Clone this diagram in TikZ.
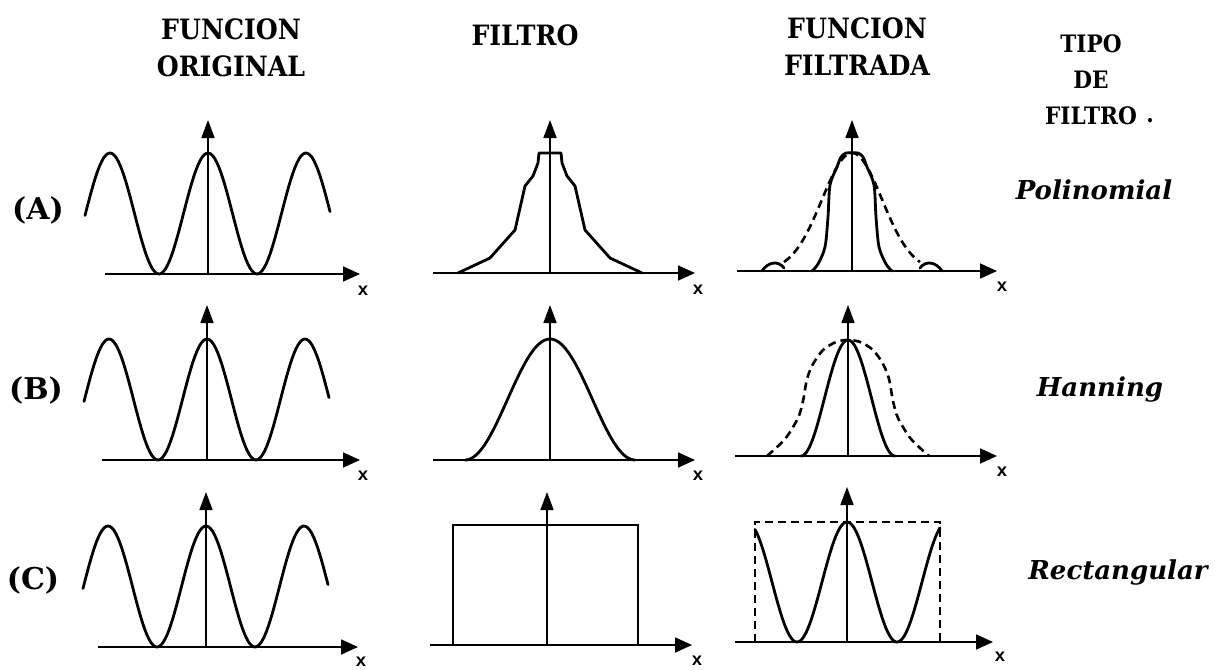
\documentclass[tikz,border=0pt]{standalone}
\usepackage{fontspec}
\setmainfont{DejaVu Serif}
\newfontfamily\headfont{DejaVu Serif}[FakeStretch=0.9]
\newfontfamily\xfont{Liberation Mono}
\usetikzlibrary{arrows.meta}
\begin{document}
\begin{tikzpicture}[x=1pt,y=-1pt,
  haxis/.style={line width=1.7pt,-{Triangle[length=17pt,width=15pt]}},
  vaxis/.style={line width=1.6pt,-{Triangle[length=18pt,width=13pt]}},
  curve/.style={line width=2.8pt,line join=round,line cap=round},
  dcurve/.style={line width=2.6pt,dash pattern=on 8pt off 5pt},
  rectline/.style={line width=1.8pt},
  drect/.style={line width=1.8pt,dash pattern=on 8pt off 5pt},
  head/.style={font=\fontsize{28}{37}\selectfont\headfont\bfseries,align=center,inner sep=0pt},
  tipohead/.style={font=\fontsize{24}{36}\selectfont\headfont\bfseries,align=center,inner sep=0pt},
  rowlab/.style={font=\fontsize{30}{34}\selectfont\bfseries,inner sep=0pt},
  tipo/.style={font=\fontsize{26}{30}\selectfont\bfseries\itshape,inner sep=0pt},
  xlab/.style={font=\fontsize{18}{18}\selectfont\xfont\bfseries,inner sep=0pt}]
\useasboundingbox (0,0) rectangle (1217,669);

% ---------------- headers
\node[head] (h1) at (231,48) {FUNCION\\ORIGINAL};
\node[head] (h2) at (525,35) {FILTRO};
\node[head] (h3) at (857,47) {FUNCION\\FILTRADA};
\node[tipohead] (h4) at (1091,80) {TIPO\\DE\\FILTRO};
\node[tipohead] (hdot) at (1150,121) {.};

% ---------------- row labels
\node[rowlab] (lA) at (38,210) {(A)};
\node[rowlab] (lB) at (36,390) {(B)};
\node[rowlab] (lC) at (33,580) {(C)};

\node[tipo] (tA) at (1094,190) {Polinomial};
\node[tipo] (tB) at (1100,390) {Hanning};
\node[tipo] (tC) at (1118,573) {Rectangular};

% ---------------- axes coordinates
% row A
\coordinate (a1l) at (105,274); \coordinate (a1r) at (360,274);
\coordinate (v1b) at (208,274); \coordinate (v1t) at (208,120);
\coordinate (a2l) at (433,273); \coordinate (a2r) at (695,273);
\coordinate (v2b) at (550,273); \coordinate (v2t) at (550,120);
\coordinate (a3l) at (737,271); \coordinate (a3r) at (997,271);
\coordinate (v3b) at (852,271); \coordinate (v3t) at (852,120);
% row B
\coordinate (b1l) at (102,460); \coordinate (b1r) at (360,460);
\coordinate (w1b) at (207,460); \coordinate (w1t) at (207,305);
\coordinate (b2l) at (433,460); \coordinate (b2r) at (695,460);
\coordinate (w2b) at (550,460); \coordinate (w2t) at (550,305);
\coordinate (b3l) at (735,456); \coordinate (b3r) at (997,456);
\coordinate (w3b) at (848,456); \coordinate (w3t) at (848,305);
% row C
\coordinate (c1l) at (98,647); \coordinate (c1r) at (358,647);
\coordinate (u1b) at (206,647); \coordinate (u1t) at (206,492);
\coordinate (c2l) at (430,645); \coordinate (c2r) at (692,645);
\coordinate (u2b) at (547,645); \coordinate (u2t) at (547,492);
\coordinate (c3l) at (735,642); \coordinate (c3r) at (993,642);
\coordinate (u3b) at (847,642); \coordinate (u3t) at (847,487);

\foreach \l/\r in {a1l/a1r,a2l/a2r,a3l/a3r,b1l/b1r,b2l/b2r,b3l/b3r,c1l/c1r,c2l/c2r,c3l/c3r}
  \draw[haxis] (\l) -- (\r);
\foreach \b/\t in {v1b/v1t,v2b/v2t,v3b/v3t,w1b/w1t,w2b/w2t,w3b/w3t,u1b/u1t,u2b/u2t,u3b/u3t}
  \draw[vaxis] (\b) -- (\t);

% x labels
\node[xlab] (xa1) at (363,291) {x};
\node[xlab] (xa2) at (698,290) {x};
\node[xlab] (xa3) at (1002,287) {x};
\node[xlab] (xb1) at (363,476) {x};
\node[xlab] (xb2) at (698,476) {x};
\node[xlab] (xb3) at (1002,472) {x};
\node[xlab] (xc1) at (361,662) {x};
\node[xlab] (xc2) at (697,661) {x};
\node[xlab] (xc3) at (1000,657) {x};

% ---------------- column 1: original function
\draw[curve] plot[domain=85:330,samples=120] (\x,{274-60.5*(1+cos(3.6735*(\x-208)))});
\draw[curve] plot[domain=84:329,samples=120] (\x,{460-60.5*(1+cos(3.6735*(\x-207)))});
\draw[curve] plot[domain=83:328,samples=120] (\x,{647-60.5*(1+cos(3.6735*(\x-206)))});

% ---------------- column 2: filters
\draw[curve] (458,273) -- (490,258) -- (515,230) -- (525,186) -- (533,176) -- (538,163)
  -- (539,153) -- (561,153) -- (562,163) -- (567,176) -- (575,186) -- (585,230)
  -- (610,258) -- (642,273);
\draw[curve] plot[domain=465:635,samples=80] (\x,{460-60.5*(1+cos(2.1176*(\x-550)))});
\draw[rectline] (453,645) -- (453,525) -- (638,525) -- (638,645);

% ---------------- column 3: filtered functions
% row A
\draw[dcurve] plot[domain=784:920,samples=80] (\x,{271-118*exp(-0.5*((\x-852)/30)^2)});
\draw[curve] plot[smooth,tension=0.5] coordinates {(812,271) (818,264) (825,247) (828,217)
  (830,185) (837,167) (841,157) (846,153) (852,153) (858,153) (863,157) (867,167)
  (874,185) (876,217) (879,247) (886,264) (892,271)};
\draw[curve] (762,271) .. controls (768,262) and (778,260) .. (784,268);
\draw[curve] (920,268) .. controls (926,260) and (936,262) .. (942,271);
% row B
\draw[dcurve] plot[smooth,tension=0.5] coordinates {(767,456) (785,439) (798,418) (803,401)
  (807,379) (813,364) (823,350) (836,342) (848,340) (860,342) (873,350) (883,364)
  (889,379) (893,401) (898,418) (911,439) (929,456)};
\draw[curve] plot[domain=801:895,samples=80] (\x,{456-58*(1+cos(3.8298*(\x-848)))});
% row C
\draw[drect] (755,642) -- (755,522) -- (940,522) -- (940,642);
\draw[curve] plot[domain=755:940,samples=120] (\x,{642-60*(1+cos(3.6*(\x-847)))});

\end{tikzpicture}
\end{document}
